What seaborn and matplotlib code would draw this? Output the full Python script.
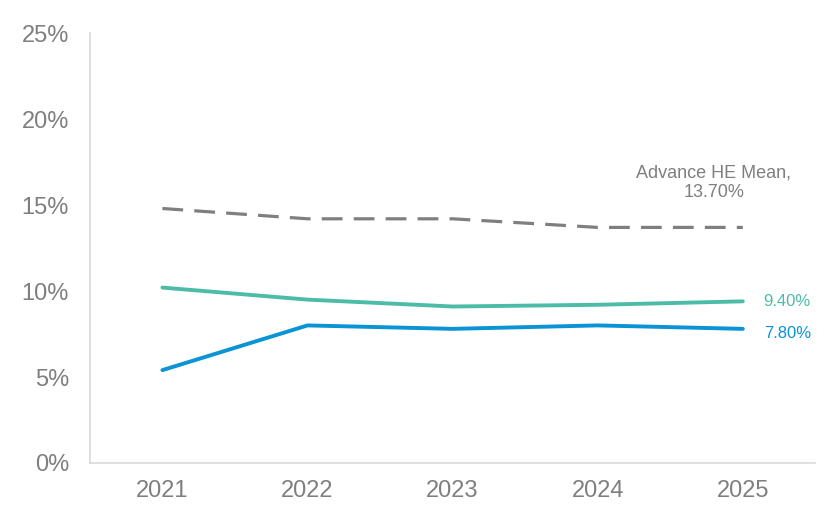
import numpy as np
import pandas as pd
import matplotlib.pyplot as plt
import seaborn as sns
from matplotlib.ticker import PercentFormatter

years = [2021, 2022, 2023, 2024, 2025]
he_mean = [14.8, 14.2, 14.2, 13.7, 13.7]
teal_vals = [10.2, 9.5, 9.1, 9.2, 9.4]
blue_vals = [5.4, 8.0, 7.8, 8.0, 7.8]

sns.set_style('white')
plt.rcParams['font.family'] = ['Liberation Sans', 'DejaVu Sans']

fig = plt.figure(figsize=(8.32, 5.13), dpi=100)
ax = fig.add_axes([0.108, 0.0975, 0.872, 0.838])

grey = '#7f7f7f'
teal = '#4cbca8'
blue = '#0a93d5'

sns.lineplot(x=years, y=he_mean, ax=ax, color=grey, linewidth=2.3,
             dashes=False, linestyle=(0, (6.5, 3.5)))
sns.lineplot(x=years, y=teal_vals, ax=ax, color=teal, linewidth=2.8)
sns.lineplot(x=years, y=blue_vals, ax=ax, color=blue, linewidth=2.8)

ax.set_xlim(2020.5, 2025.5)
ax.set_ylim(0, 25)
ax.set_yticks(np.arange(0, 26, 5))
ax.set_xticks(years)
ax.yaxis.set_major_formatter(PercentFormatter(decimals=0))
ax.tick_params(axis='both', length=0, labelsize=17, colors='#7f7f7f')
ax.tick_params(axis='y', pad=15)
ax.tick_params(axis='x', pad=12)

for s in ['top', 'right']:
    ax.spines[s].set_visible(False)
for s in ['left', 'bottom']:
    ax.spines[s].set_color('#d9d9d9')
    ax.spines[s].set_linewidth(1.2)

ax.annotate(f'Advance HE Mean,\n{he_mean[-1]:.2f}%', xy=(years[-1], he_mean[-1]),
            xytext=(-21, 32), textcoords='offset points', ha='center', va='center',
            fontsize=13, color=grey, linespacing=1.15)
ax.annotate(f'{teal_vals[-1]:.2f}%', xy=(years[-1], teal_vals[-1]),
            xytext=(15, 0), textcoords='offset points', ha='left', va='center',
            fontsize=12, color=teal)
ax.annotate(f'{blue_vals[-1]:.2f}%', xy=(years[-1], blue_vals[-1]),
            xytext=(15, -3), textcoords='offset points', ha='left', va='center',
            fontsize=12, color=blue)

fig.savefig('out.png', dpi=100)
